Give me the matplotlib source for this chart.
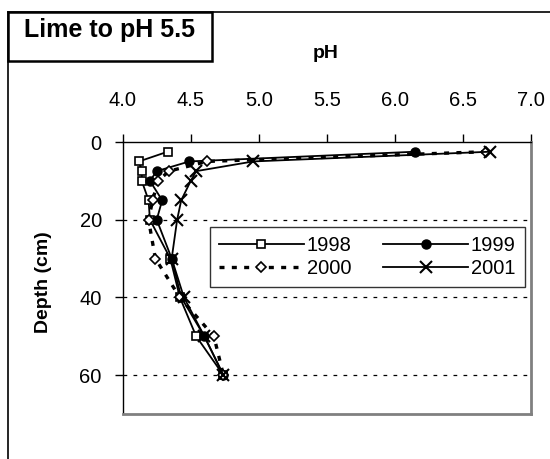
import matplotlib
matplotlib.use("Agg")
import matplotlib.pyplot as plt
from matplotlib.lines import Line2D
from matplotlib.patches import Rectangle

plt.rcParams['font.family'] = ['Liberation Sans', 'DejaVu Sans']

depths = [2.5, 5, 7.5, 10, 15, 20, 30, 40, 50, 60]
ph_1998 = [4.33, 4.12, 4.14, 4.14, 4.19, 4.20, 4.35, 4.42, 4.54, 4.74]
ph_1999 = [6.15, 4.49, 4.25, 4.20, 4.29, 4.25, 4.36, 4.43, 4.60, 4.74]
ph_2000 = [6.67, 4.62, 4.34, 4.26, 4.22, 4.19, 4.24, 4.42, 4.67, 4.74]
ph_2001 = [6.70, 4.96, 4.54, 4.50, 4.43, 4.40, 4.36, 4.45, 4.60, 4.74]
years = ['1998', '1999', '2000', '2001']
x_ticks = [4.0, 4.5, 5.0, 5.5, 6.0, 6.5, 7.0]
y_ticks = [0, 20, 40, 60]

W, H = 550, 459
fig = plt.figure(figsize=(W / 100, H / 100), dpi=100)
ax = fig.add_axes([122.7 / W, 1 - 414 / H, (531 - 122.7) / W, (414 - 142) / H])

h1, = ax.plot(ph_1998, depths, color='black', lw=1.3, marker='s', ms=6, mfc='white', mec='black', mew=1.2, label=years[0])
h2, = ax.plot(ph_1999, depths, color='black', lw=1.3, marker='o', ms=6.5, mfc='black', mec='black', label=years[1])
h3, = ax.plot(ph_2000, depths, color='black', lw=2.4, ls=(0, (1.5, 2.2)), marker='D', ms=4.8, mfc='white', mec='black', mew=1.2, label=years[2])
h4, = ax.plot(ph_2001, depths, color='black', lw=1.3, marker='x', ms=9, mec='black', mew=1.5, label=years[3])

ax.set_xlim(4.0, 7.0)
ax.set_ylim(70, 0)
ax.set_xticks(x_ticks)
ax.set_xticklabels([f"{v:.1f}" for v in x_ticks])
ax.set_yticks(y_ticks)
ax.xaxis.tick_top()
ax.xaxis.set_label_position('top')
ax.tick_params(axis='both', direction='out', length=6, width=1, labelsize=14.5, colors='black')
ax.tick_params(axis='x', pad=17)
ax.tick_params(axis='y', pad=9)

for yv in y_ticks[1:]:
    ax.axhline(yv, color='black', lw=0.9, ls=(0, (3, 5)), zorder=0)

ax.spines['left'].set_color('black')
ax.spines['top'].set_color('black')
ax.spines['left'].set_linewidth(1.0)
ax.spines['top'].set_linewidth(1.0)
ax.spines['right'].set_color('#808080')
ax.spines['bottom'].set_color('#808080')
ax.spines['right'].set_linewidth(2)
ax.spines['bottom'].set_linewidth(2)

fig.text(326 / W, 1 - 53 / H, 'pH', ha='center', va='center', fontsize=14, fontweight='bold')
fig.text(43 / W, 1 - 282 / H, 'Depth (cm)', ha='center', va='center', rotation=90, fontsize=14, fontweight='bold')

leg = ax.legend([h1, h3, h2, h4], [years[0], years[2], years[1], years[3]], ncol=2, loc='upper left',
                bbox_to_anchor=(0.214, 0.6875, 0.771, 0), mode='expand',
                borderaxespad=0, fontsize=14.5, handlelength=4.2, handletextpad=0.15, columnspacing=0.6,
                labelspacing=0.2, frameon=True, fancybox=False, edgecolor='black', borderpad=0.45)
leg.get_frame().set_linewidth(1.0)

# outer frame
fig.add_artist(Line2D([8 / W, 8 / W], [1 - 12 / H, 0], transform=fig.transFigure, color='black', lw=1.2))
fig.add_artist(Line2D([8 / W, 1], [1 - 12 / H, 1 - 12 / H], transform=fig.transFigure, color='black', lw=1.2))
fig.add_artist(Rectangle((8 / W, 1 - 61 / H), (212 - 8) / W, (61 - 12) / H, transform=fig.transFigure,
                         fill=False, edgecolor='black', lw=1.8))
fig.text(110 / W, 1 - 30 / H, 'Lime to pH 5.5', ha='center', va='center', fontsize=18, fontweight='bold')

fig.savefig('out.png', dpi=100)
